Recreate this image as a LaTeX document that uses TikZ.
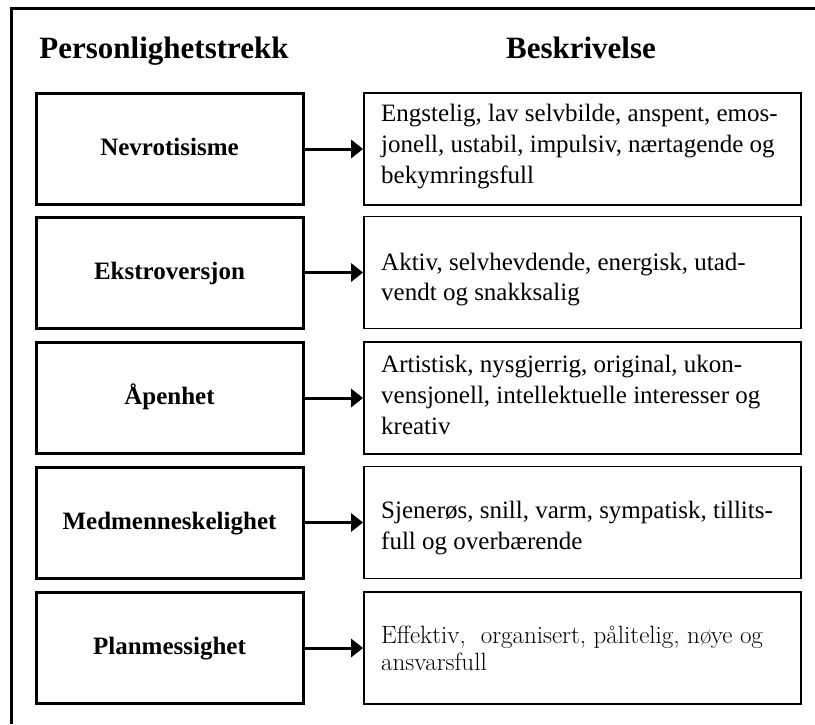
\documentclass[tikz,border=0pt]{standalone}
\usepackage{fontspec}
\setmainfont{Liberation Serif}
\newfontfamily\altserif{Latin Modern Roman}
\usetikzlibrary{arrows.meta}

\tikzset{
  header/.style={font=\bfseries\fontsize{31}{36}\selectfont, anchor=base},
  traitbox/.style={draw, line width=3pt, minimum width=267pt, minimum height=111pt,
    inner sep=0pt, text height=17pt, text depth=4pt,
    font=\bfseries\fontsize{25}{30}\selectfont},
  descbox/.style={draw, line width=1.8pt, minimum width=437pt, minimum height=112pt,
    inner sep=0pt},
  descline/.style={anchor=base west, inner sep=0pt, font=\fontsize{25}{30}\selectfont},
  altline/.style={descline, font=\altserif\fontsize{25}{30}\selectfont},
  link/.style={line width=3pt, -{Triangle[length=12pt,width=18pt]}}
}

\begin{document}
\begin{tikzpicture}[x=1pt,y=-1pt]
  \useasboundingbox (0,0) rectangle (815,724);

  % frame along the top and left edges
  \draw[line width=3pt] (11,724) -- (11,8) -- (815,8);

  % column headings
  \node[header] (hTrait) at (164,58) {Personlighetstrekk};
  \node[header] (hDesc)  at (581,58) {Beskrivelse};

  % traits
  \node[traitbox] (t1) at (169.5,149)   {Nevrotisisme};
  \node[traitbox] (t2) at (169.5,272.5) {Ekstroversjon};
  \node[traitbox] (t3) at (169.5,398)   {Åpenhet};
  \node[traitbox] (t4) at (169.5,522.5) {Medmenneskelighet};
  \node[traitbox] (t5) at (169.5,648)   {Planmessighet};

  % description frames
  \node[descbox] (d1) at (582.5,149)   {};
  \node[descbox] (d2) at (582.5,272.5) {};
  \node[descbox] (d3) at (582.5,398)   {};
  \node[descbox] (d4) at (582.5,522.5) {};
  \node[descbox] (d5) at (582.5,648)   {};

  % description text, one line at a time
  \node[descline] (d1a) at (381,121) {Engstelig, lav selvbilde, anspent, emos-};
  \node[descline] (d1b) at (381,152) {jonell, ustabil, impulsiv, nærtagende og};
  \node[descline] (d1c) at (381,183) {bekymringsfull};

  \node[descline] (d2a) at (381,270) {Aktiv, selvhevdende, energisk, utad-};
  \node[descline] (d2b) at (381,300) {vendt og snakksalig};

  \node[descline] (d3a) at (381,372) {Artistisk, nysgjerrig, original, ukon-};
  \node[descline] (d3b) at (381,403) {vensjonell, intellektuelle interesser og};
  \node[descline] (d3c) at (381,434) {kreativ};

  \node[descline] (d4a) at (381,518) {Sjenerøs, snill, varm, sympatisk, tillits-};
  \node[descline] (d4b) at (381,549) {full og overbærende};

  \node[altline] (d5a) at (381,643) {Effektiv,\hspace{0.6em}organisert, pålitelig, nøye og};
  \node[altline] (d5b) at (381,670) {ansvarsfull};

  % connectors
  \foreach \i in {1,...,5} {
    \draw[link] (t\i.east) -- (d\i.west);
  }
\end{tikzpicture}
\end{document}
